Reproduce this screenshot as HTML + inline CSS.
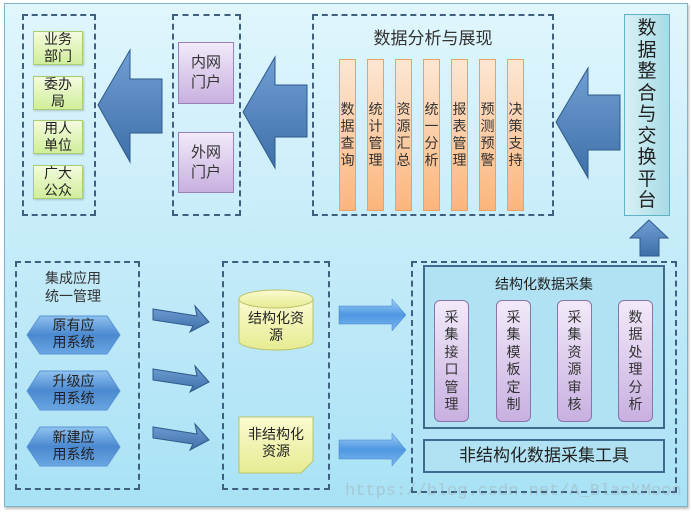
<!DOCTYPE html>
<html><head><meta charset="utf-8"><style>
body{margin:0;width:692px;height:513px;background:#fff;overflow:hidden;font-family:"Liberation Sans","Noto Sans CJK SC",sans-serif;}
.a{position:absolute;box-sizing:border-box;}
.d{border:2.5px dashed #3e5f80;}
.g{background:linear-gradient(#f4fbe0,#d0ee9a);border:1px solid #a9cd72;font-size:14px;line-height:17px;text-align:center;display:flex;align-items:center;justify-content:center;color:#222;box-shadow:1px 1px 2px rgba(0,0,0,.2);}
.p{background:linear-gradient(#f2eafa,#c8b0e0);border:1px solid #9a80b8;font-size:15px;line-height:20px;text-align:center;display:flex;align-items:center;justify-content:center;color:#333;}
.o{background:linear-gradient(#fde7d2,#fbb57c);border:1px solid #e9a06a;font-size:14px;line-height:17px;width:17px;text-align:center;display:flex;align-items:center;justify-content:center;color:#333;}
.pl{background:linear-gradient(#f2eafa,#c8b0e0);border:1px solid #8c74aa;border-radius:6px;font-size:14px;line-height:17.5px;text-align:center;display:flex;align-items:center;justify-content:center;color:#333;padding:0 9px;}
</style></head><body>
<div class="a" style="left:4px;top:3px;width:684px;height:504px;background:linear-gradient(#e0f6fd,#bfe9f8 60%,#a8e2f5);border:1px solid #7fb4cc;box-shadow:1px 2px 2px rgba(0,0,0,.25)"></div>

<div class="a d" style="left:22px;top:14px;width:74px;height:202px"></div>
<div class="a g" style="left:33px;top:31px;width:50px;height:34px">业务<br>部门</div>
<div class="a g" style="left:33px;top:76px;width:50px;height:34px">委办<br>局</div>
<div class="a g" style="left:33px;top:120px;width:50px;height:34px">用人<br>单位</div>
<div class="a g" style="left:33px;top:165px;width:50px;height:34px">广大<br>公众</div>

<div class="a d" style="left:172px;top:14px;width:69px;height:202px"></div>
<div class="a p" style="left:178px;top:42px;width:56px;height:62px">内网<br>门户</div>
<div class="a p" style="left:178px;top:132px;width:56px;height:61px">外网<br>门户</div>

<div class="a d" style="left:312px;top:14px;width:242px;height:202px"></div>
<div class="a" style="left:312px;top:24px;width:242px;text-align:center;font-size:17px;color:#333">数据分析与展现</div>
<div class="a o" style="left:339px;top:59px;height:152px">数据查询</div>
<div class="a o" style="left:367px;top:59px;height:152px">统计管理</div>
<div class="a o" style="left:395px;top:59px;height:152px">资源汇总</div>
<div class="a o" style="left:423px;top:59px;height:152px">统一分析</div>
<div class="a o" style="left:451px;top:59px;height:152px">报表管理</div>
<div class="a o" style="left:479px;top:59px;height:152px">预测预警</div>
<div class="a o" style="left:507px;top:59px;height:152px">决策支持</div>

<div class="a" style="left:624px;top:14px;width:46px;height:202px;background:linear-gradient(90deg,#d6f1f6,#a8dbe6);border:1px solid #5fb3c4;font-size:19px;line-height:21.5px;text-align:center;display:flex;align-items:center;justify-content:center;color:#222;padding:0 12px">数据整合与交换平台</div>

<svg class="a" style="left:0;top:0" width="692" height="513">
<defs>
<linearGradient id="ba" x1="0" y1="0" x2="0" y2="1"><stop offset="0" stop-color="#6f9fd4"/><stop offset="1" stop-color="#3f6fa8"/></linearGradient>
<linearGradient id="bb" x1="0" y1="0" x2="0" y2="1"><stop offset="0" stop-color="#9fd0f6"/><stop offset=".5" stop-color="#4f97e2"/><stop offset="1" stop-color="#7eb8ee"/></linearGradient>
<linearGradient id="hx" x1="0" y1="0" x2="0" y2="1"><stop offset="0" stop-color="#8fc2ef"/><stop offset=".5" stop-color="#4a88d0"/><stop offset="1" stop-color="#6aa6e2"/></linearGradient>
<linearGradient id="cy" x1="0" y1="0" x2="0" y2="1"><stop offset="0" stop-color="#fbfbd0"/><stop offset="1" stop-color="#e6eb92"/></linearGradient>
</defs>
<g fill="url(#ba)" stroke="#2f5a8a" stroke-width="1">
<polygon points="98,105 130,50 130,79 162,79 162,133 130,133 130,162"/>
<polygon points="243,112 275,57 275,85 307,85 307,137 275,137 275,168"/>
<polygon points="556,122 588,68 588,95 620,95 620,150 588,150 588,178"/>
<polygon points="649,220 668,238 659,238 659,256 640,256 640,238 630,238"/>
<polygon points="153,309 197,316 195,306 209,322 190,332 193,326 153,320"/>
<polygon points="153,369 197,376 195,366 209,382 190,392 193,386 153,380"/>
<polygon points="153,427 197,434 195,424 209,440 190,450 193,444 153,438"/>
<polygon points="472,333 490,333 484,318 500,361 484,404 490,389 472,389"/>
<polygon points="533,333 551,333 545,318 561,361 545,404 551,389 533,389"/>
<polygon points="594,333 612,333 606,318 622,361 606,404 612,389 594,389"/>
</g>
<g fill="url(#bb)" stroke="#3f7fc8" stroke-width=".5">
<polygon points="339,306 392,306 392,299 406,315 392,331 392,324 339,324"/>
<polygon points="339,440 392,440 392,433 406,450 392,466 392,459 339,459"/>
</g>
<g fill="url(#hx)" stroke="#5a93d4" stroke-width="1">
<polygon points="27,335 40,316 107,316 120,335 107,354 40,354"/>
<polygon points="27,391 40,371 107,371 120,391 107,410 40,410"/>
<polygon points="27,447 40,427 107,427 120,447 107,466 40,466"/>
</g>
<g fill="url(#cy)" stroke="#b9c36a" stroke-width="1">
<path d="M239,299 v42 a37,9 0 0 0 74,0 v-42 z"/>
<ellipse cx="276" cy="299" rx="37" ry="9"/>
<path d="M239,417 h74 v44 l-12,12 h-62 z"/>
</g>
</svg>

<div class="a d" style="left:15px;top:261px;width:125px;height:229px"></div>
<div class="a" style="left:45px;top:269px;font-size:14px;line-height:18px;color:#333">集成应用<br>统一管理</div>
<div class="a" style="left:27px;top:317px;width:93px;text-align:center;font-size:14px;line-height:17px;color:#222">原有应<br>用系统</div>
<div class="a" style="left:27px;top:373px;width:93px;text-align:center;font-size:14px;line-height:17px;color:#222">升级应<br>用系统</div>
<div class="a" style="left:27px;top:429px;width:93px;text-align:center;font-size:14px;line-height:17px;color:#222">新建应<br>用系统</div>

<div class="a d" style="left:222px;top:261px;width:108px;height:229px"></div>
<div class="a" style="left:239px;top:310px;width:74px;text-align:center;font-size:14px;line-height:17px;color:#222">结构化资<br>源</div>
<div class="a" style="left:239px;top:426px;width:74px;text-align:center;font-size:14px;line-height:17px;color:#222">非结构化<br>资源</div>

<div class="a d" style="left:411px;top:261px;width:266px;height:232px"></div>
<div class="a" style="left:423px;top:265px;width:242px;height:164px;background:#b0e2f3;border:2px solid #3e6a8e"></div>
<div class="a" style="left:423px;top:274px;width:242px;text-align:center;font-size:14px;color:#222">结构化数据采集</div>
<div class="a pl" style="left:434px;top:300px;width:35px;height:122px">采集接口管理</div>
<div class="a pl" style="left:496px;top:300px;width:35px;height:122px">采集模板定制</div>
<div class="a pl" style="left:557px;top:300px;width:35px;height:122px">采集资源审核</div>
<div class="a pl" style="left:618px;top:300px;width:35px;height:122px">数据处理分析</div>
<div class="a" style="left:423px;top:439px;width:242px;height:34px;background:#b0e2f3;border:2px solid #3e6a8e;font-size:17px;text-align:center;line-height:30px;color:#222">非结构化数据采集工具</div>

<div class="a" style="left:345px;top:482px;font-family:'Liberation Mono',monospace;font-size:17px;color:rgba(160,160,160,.4)">https://blog.csdn.net/A_BlackMoon</div>
</body></html>
